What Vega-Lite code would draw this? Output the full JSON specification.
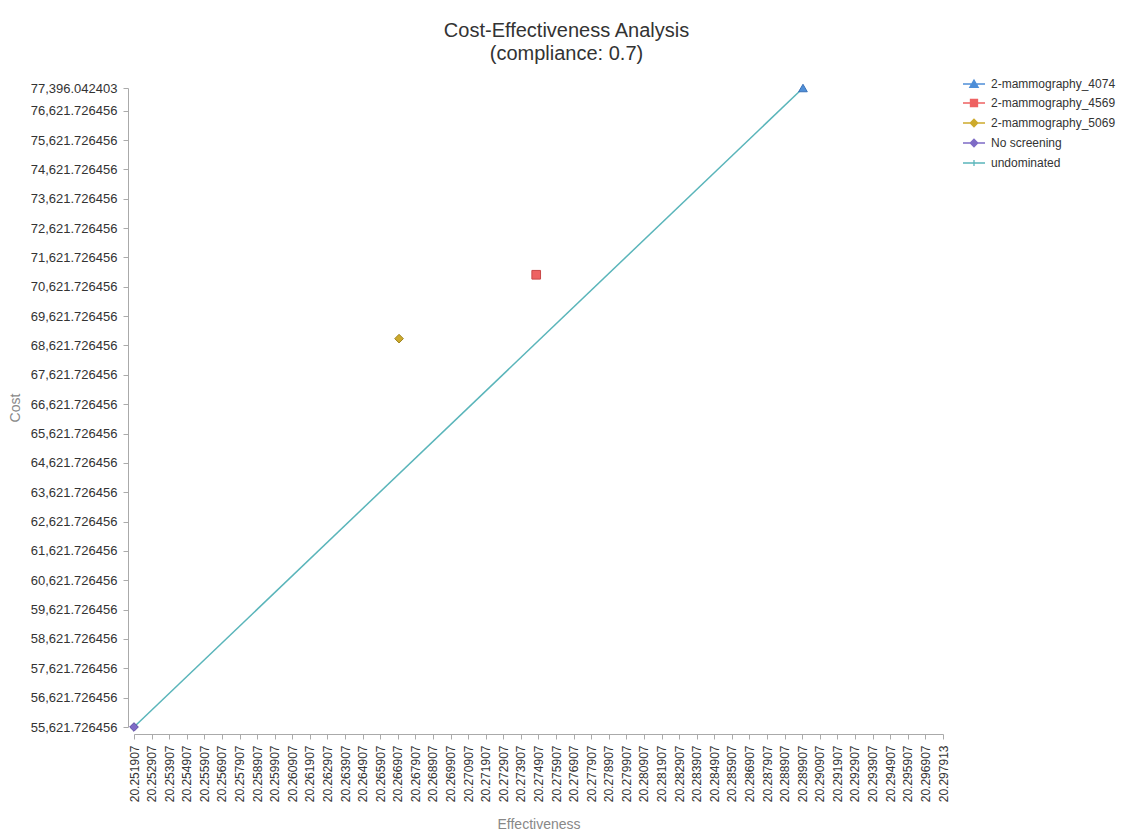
{
  "$schema": "https://vega.github.io/schema/vega-lite/v6.json",
  "autosize": {"type": "none"},
  "padding": {"left": 134, "top": 88, "right": 186, "bottom": 105},
  "width": 809,
  "height": 639,
  "background": "white",
  "config": {
    "view": {"stroke": null},
    "font": "Liberation Sans"
  },
  "title": {
    "text": ["Cost-Effectiveness Analysis", "(compliance: 0.7)"],
    "anchor": "middle",
    "dx": 28,
    "fontSize": 20,
    "fontWeight": "normal",
    "color": "#333333",
    "lineHeight": 23,
    "offset": 8,
    "font": "Liberation Sans"
  },
  "data": {
    "values": [
      {"series": "No screening", "eff": 20.251907, "cost": 55621.726456},
      {"series": "2-mammography_5069", "eff": 20.26698, "cost": 68855},
      {"series": "2-mammography_4569", "eff": 20.27478, "cost": 71032},
      {"series": "2-mammography_4074", "eff": 20.28995, "cost": 77396.042403},
      {"series": "undominated", "eff": 20.251907, "cost": 55621.726456},
      {"series": "undominated", "eff": 20.28995, "cost": 77396.042403}
    ]
  },
  "encoding": {
    "x": {
      "field": "eff",
      "type": "quantitative",
      "title": "Effectiveness",
      "scale": {"domain": [20.251907, 20.297913], "nice": false, "zero": false},
      "axis": {
        "values": [20.251907, 20.252907, 20.253907, 20.254907, 20.255907, 20.256907, 20.257907, 20.258907, 20.259907, 20.260907, 20.261907, 20.262907, 20.263907, 20.264907, 20.265907, 20.266907, 20.267907, 20.268907, 20.269907, 20.270907, 20.271907, 20.272907, 20.273907, 20.274907, 20.275907, 20.276907, 20.277907, 20.278907, 20.279907, 20.280907, 20.281907, 20.282907, 20.283907, 20.284907, 20.285907, 20.286907, 20.287907, 20.288907, 20.289907, 20.290907, 20.291907, 20.292907, 20.293907, 20.294907, 20.295907, 20.296907, 20.297913],
        "format": ".6f",
        "labelAngle": -90,
        "labelOverlap": false,
        "labelFlush": false,
        "labelFontSize": 12,
        "labelColor": "#333333",
        "labelPadding": 6,
        "tickSize": 5,
        "tickColor": "#aaaaaa",
        "domainColor": "#aaaaaa",
        "offset": 7,
        "grid": false,
        "titleFontSize": 14,
        "titleFontWeight": "normal",
        "titleColor": "#888888",
        "titlePadding": 16
      }
    },
    "y": {
      "field": "cost",
      "type": "quantitative",
      "title": "Cost",
      "scale": {"domain": [55621.726456, 77396.042403], "nice": false, "zero": false},
      "axis": {
        "values": [55621.726456, 56621.726456, 57621.726456, 58621.726456, 59621.726456, 60621.726456, 61621.726456, 62621.726456, 63621.726456, 64621.726456, 65621.726456, 66621.726456, 67621.726456, 68621.726456, 69621.726456, 70621.726456, 71621.726456, 72621.726456, 73621.726456, 74621.726456, 75621.726456, 76621.726456, 77396.042403],
        "format": ",.6f",
        "labelOverlap": false,
        "labelFlush": false,
        "labelFontSize": 13,
        "labelColor": "#333333",
        "labelPadding": 6,
        "tickSize": 5,
        "tickColor": "#aaaaaa",
        "domainColor": "#aaaaaa",
        "offset": 6,
        "grid": false,
        "titleFontSize": 14,
        "titleFontWeight": "normal",
        "titleColor": "#888888",
        "titlePadding": 8
      }
    }
  },
  "layer": [
    {
      "transform": [{"filter": "datum.series === 'undominated'"}],
      "mark": {"type": "line", "strokeWidth": 1.5},
      "encoding": {
        "color": {
          "field": "series",
          "type": "nominal",
          "scale": {
            "domain": ["2-mammography_4074", "2-mammography_4569", "2-mammography_5069", "No screening", "undominated"],
            "range": ["#4f8fd8", "#ee6262", "#cdaa2c", "#7e6bc6", "#5ab5ba"]
          },
          "legend": {
            "orient": "none",
            "legendX": 828,
            "legendY": -16,
            "title": null,
            "padding": 0,
            "labelFontSize": 12,
            "labelColor": "#333333",
            "labelOffset": 5,
            "rowPadding": 1,
            "symbolSize": 484,
            "encode": {
              "symbols": {
                "update": {
                  "shape": {"signal": "datum.value === '2-mammography_4074' ? 'M-1,0H1M0,-0.36L0.38,0.3L-0.38,0.3Z' : datum.value === '2-mammography_4569' ? 'M-1,0H1M-0.32,-0.32H0.32V0.32H-0.32Z' : (datum.value === '2-mammography_5069' || datum.value === 'No screening') ? 'M-1,0H1M0,-0.34L0.34,0L0,0.34L-0.34,0Z' : 'M-1,0H1M0,-0.28V0.28'"},
                  "fill": {"scale": "color", "field": "value"},
                  "stroke": {"scale": "color", "field": "value"},
                  "strokeWidth": {"value": 1.3},
                  "size": {"value": 484},
                  "opacity": {"value": 1},
                  "fillOpacity": {"value": 1},
                  "strokeOpacity": {"value": 1}
                }
              }
            }
          }
        }
      }
    },
    {
      "transform": [{"filter": "datum.series !== 'undominated'"}],
      "mark": {"type": "point", "filled": true, "opacity": 1, "strokeWidth": 1},
      "encoding": {
        "color": {"field": "series", "type": "nominal"},
        "stroke": {
          "field": "series",
          "type": "nominal",
          "scale": {
            "domain": ["2-mammography_4074", "2-mammography_4569", "2-mammography_5069", "No screening"],
            "range": ["#3a72b8", "#c84848", "#9e8320", "#5b4aa2"]
          },
          "legend": null
        },
        "shape": {
          "field": "series",
          "type": "nominal",
          "scale": {
            "domain": ["2-mammography_4074", "2-mammography_4569", "2-mammography_5069", "No screening"],
            "range": ["triangle-up", "square", "diamond", "diamond"]
          },
          "legend": null
        },
        "size": {"value": 75}
      }
    }
  ]
}
